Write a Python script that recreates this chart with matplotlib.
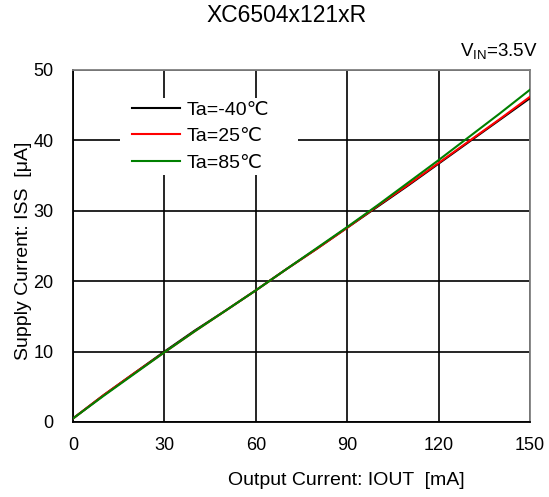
import matplotlib
matplotlib.use("Agg")
import matplotlib.pyplot as plt
from matplotlib.patches import Rectangle

plt.rcParams["font.family"] = ["Liberation Sans", "DejaVu Sans"]

iout = [0, 10, 20, 30, 40, 50, 60, 70, 80, 90, 100, 110, 120, 130, 140, 150]
iss_m40 = [0.5, 3.8, 6.9, 10.0, 13.0, 15.8, 18.7, 21.7, 24.6, 27.6, 30.6, 33.6, 36.7, 39.8, 42.9, 46.0]
iss_25 = [0.5, 3.8, 6.9, 9.9, 12.9, 15.8, 18.7, 21.7, 24.6, 27.6, 30.7, 33.7, 36.8, 39.9, 43.0, 46.2]
iss_85 = [0.5, 3.7, 6.8, 9.9, 12.9, 15.8, 18.7, 21.7, 24.7, 27.7, 30.8, 34.0, 37.2, 40.5, 43.8, 47.2]
labels = ["Ta=-40\u2103", "Ta=25\u2103", "Ta=85\u2103"]
colors = ["black", "red", "green"]

fig = plt.figure(figsize=(5.49, 4.97), dpi=100)
ax = fig.add_axes([73/549, 1 - 422/497, 457/549, 352/497])

for y, lab, c in zip([iss_m40, iss_25, iss_85], labels, colors):
    ax.plot(iout, y, color=c, lw=1.5, label=lab, zorder=3)

ax.set_xlim(0, 150); ax.set_ylim(0, 50)
ax.set_xticks(range(0, 151, 30)); ax.set_yticks(range(0, 51, 10))
ax.grid(True, color="black", lw=1.2)
ax.set_axisbelow(True)
ax.tick_params(length=0, labelsize=13)
ax.tick_params(axis="x", pad=11)
ax.tick_params(axis="y", pad=14)
for s in ["top", "right"]:
    ax.spines[s].set_color("#808080")
for s in ["left", "bottom"]:
    ax.spines[s].set_color("black")
for s in ax.spines.values():
    s.set_linewidth(1.3)

ax.set_xlabel("Output Current: IOUT  [mA]", fontsize=14)
ax.xaxis.set_label_coords(0.597, -0.142)
ax.set_ylabel("Supply Current: ISS  [\u03bcA]", fontsize=14)
ax.yaxis.set_label_coords(-0.089, 0.487)

# white patch behind legend hides the grid
ax.add_patch(Rectangle((0.103, 0.702), 0.389, 0.218, transform=ax.transAxes,
                       facecolor="white", edgecolor="none", zorder=1))
leg = ax.legend(loc="upper left", bbox_to_anchor=(0.129, 0.911), frameon=False, fontsize=14,
                handlelength=2.47, handletextpad=0.36, labelspacing=0.45, borderpad=0,
                borderaxespad=0)

fig.text(287/549, 1 - 16/497, "XC6504x121xR", ha="center", va="center", fontsize=16.5)
fig.text(538/549, 1 - 52/497, r"V$_{\mathregular{IN}}$=3.5V", ha="right", va="center", fontsize=13.5)

fig.savefig("out.png", dpi=100)
